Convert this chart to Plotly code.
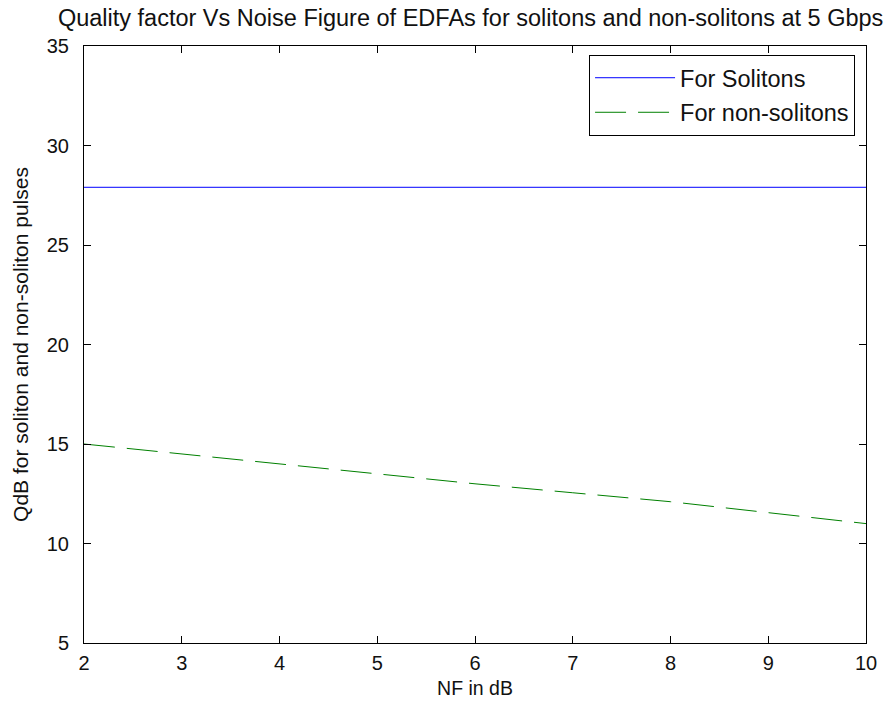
import plotly.graph_objects as go

nf_db = [2, 3, 4, 5, 6, 7, 8, 9, 10]
q_solitons = [27.9, 27.9, 27.9, 27.9, 27.9, 27.9, 27.9, 27.9, 27.9]
q_non_solitons = [15.0, 14.5, 14.0, 13.5, 13.0, 12.55, 12.1, 11.55, 11.0]

x_ticks = [2, 3, 4, 5, 6, 7, 8, 9, 10]
y_ticks = [5, 10, 15, 20, 25, 30, 35]

font_family = "Liberation Sans, Arial, sans-serif"

fig = go.Figure()
fig.add_trace(go.Scatter(x=nf_db, y=q_solitons, mode="lines", name="For Solitons",
                         legendgroup="a",
                         line=dict(color="#0000ff", width=1)))
fig.add_trace(go.Scatter(x=nf_db, y=q_non_solitons, mode="lines", name="For non-solitons",
                         legendgroup="b",
                         line=dict(color="#008000", width=1, dash="31px,12px")))

axis_common = dict(showgrid=False, zeroline=False, showline=True, linecolor="black",
                   linewidth=1, mirror="ticks", ticks="inside", ticklen=7,
                   tickcolor="black", tickfont=dict(size=20, color="#111111"),
                   automargin=False)

fig.update_layout(
    width=888, height=704,
    margin=dict(l=84, r=22, t=46, b=61, autoexpand=False),
    paper_bgcolor="white", plot_bgcolor="white",
    font=dict(family=font_family, size=20, color="#111111"),
    title=dict(text="Quality factor Vs Noise Figure of EDFAs for solitons and non-solitons at 5 Gbps",
               xref="container", x=0.53, xanchor="center", y=0.975, yanchor="middle",
               font=dict(size=23.5), automargin=False),
    xaxis=dict(range=[2, 10], tickvals=x_ticks,
               title=dict(text="NF in dB", standoff=8, font=dict(size=19.5)),
               ticklabelstandoff=2, **axis_common),
    yaxis=dict(range=[5, 35], tickvals=y_ticks,
               title=dict(text="QdB for soliton and non-soliton pulses", standoff=12,
                          font=dict(size=21)),
               ticklabelstandoff=10, **axis_common),
    legend=dict(x=0.986, y=0.985, xanchor="right", yanchor="top", bordercolor="black",
                borderwidth=1, bgcolor="white", font=dict(size=23.5), itemwidth=80,
                tracegroupgap=1),
    showlegend=True,
)

fig.write_html("out.html")
